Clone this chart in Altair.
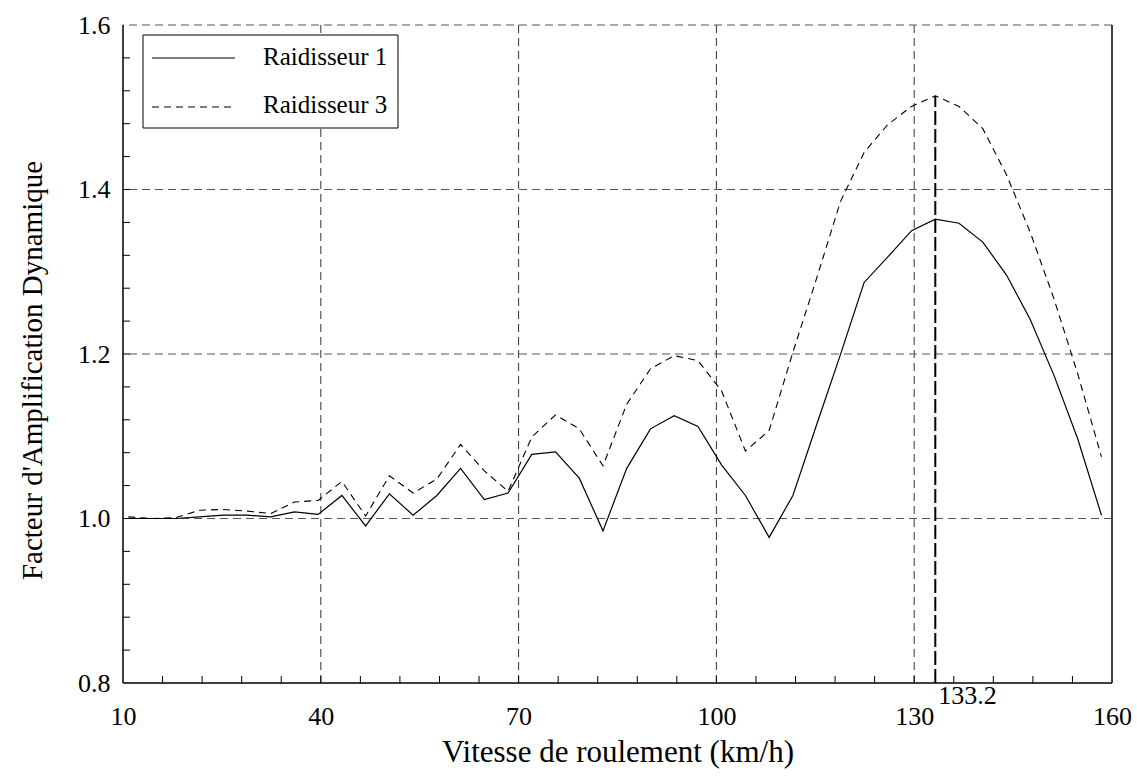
import altair as alt
import pandas as pd

# ---- data ----
speed_kmh = [10.8, 14.4, 18.0, 21.6, 25.2, 28.8, 32.4, 36.0, 39.6, 43.2,
             46.8, 50.4, 54.0, 57.6, 61.2, 64.8, 68.4, 72.0, 75.6, 79.2,
             82.8, 86.4, 90.0, 93.6, 97.2, 100.8, 104.4, 108.0, 111.6, 115.2,
             118.8, 122.4, 126.0, 129.6, 133.2, 136.8, 140.4, 144.0, 147.6, 151.2,
             154.8, 158.4]
raid1 = [1.000, 1.000, 1.000, 1.002, 1.004, 1.004, 1.002, 1.008, 1.005, 1.028,
         0.991, 1.030, 1.004, 1.028, 1.061, 1.023, 1.031, 1.078, 1.081, 1.049,
         0.985, 1.061, 1.109, 1.125, 1.112, 1.065, 1.028, 0.977, 1.028, 1.114,
         1.199, 1.287, 1.318, 1.350, 1.364, 1.359, 1.336, 1.296, 1.242, 1.174,
         1.097, 1.004]
raid3 = [1.002, 1.000, 1.001, 1.010, 1.011, 1.009, 1.006, 1.020, 1.022, 1.045,
         1.003, 1.052, 1.031, 1.048, 1.090, 1.058, 1.033, 1.099, 1.126, 1.109,
         1.064, 1.139, 1.182, 1.198, 1.192, 1.155, 1.082, 1.107, 1.202, 1.292,
         1.385, 1.445, 1.479, 1.501, 1.514, 1.501, 1.474, 1.418, 1.348, 1.267,
         1.176, 1.075]
series_names = ["Raidisseur 1", "Raidisseur 3"]

x_labels = [10, 40, 70, 100, 130, 160]
y_labels = [0.8, 1.0, 1.2, 1.4, 1.6]
grid_x = [40, 70, 100, 130]
grid_y = [1.0, 1.2, 1.4, 1.6]
minor_x = [16, 22, 28, 34, 40, 46, 52, 58, 64, 70, 76, 82, 88, 94, 100,
           106, 112, 118, 124, 130, 136, 142, 148, 154]
minor_y = [0.84, 0.88, 0.92, 0.96, 1.0, 1.04, 1.08, 1.12, 1.16, 1.2, 1.24,
           1.28, 1.32, 1.36, 1.4, 1.44, 1.48, 1.52, 1.56]
peak_speed = [133.2]
peak_value = [1.514]
peak_label = ["133.2"]

FONT = "Times New Roman, Liberation Serif, serif"
W, H = 989, 658

xs = alt.Scale(domain=[10, 160], nice=False, zero=False)
ys = alt.Scale(domain=[0.8, 1.6], nice=False, zero=False)

df1 = pd.DataFrame({"v": speed_kmh, "f": raid1})
df3 = pd.DataFrame({"v": speed_kmh, "f": raid3})

# axes (labels + titles only)
base_axes = alt.Chart(pd.DataFrame({"v": [10, 160], "f": [0.8, 1.6]})).mark_point(opacity=0).encode(
    x=alt.X("v:Q", scale=xs, axis=alt.Axis(
        values=x_labels, title="Vitesse de roulement (km/h)", grid=False, ticks=False,
        domain=False, tickSize=0, labelPadding=20, labelFont=FONT, labelFontSize=26,
        labelColor="black", titleFont=FONT, titleFontSize=31, titleFontWeight="normal",
        titleColor="black", titlePadding=8, labelFlush=False)),
    y=alt.Y("f:Q", scale=ys, axis=alt.Axis(
        values=y_labels, format=".1f", title="Facteur d'Amplification Dynamique",
        grid=False, ticks=False, domain=False, tickSize=0, labelPadding=13,
        labelFont=FONT, labelFontSize=26, labelColor="black", titleFont=FONT,
        titleFontSize=29, titleFontWeight="normal", titleColor="black",
        titlePadding=30, titleY=345, labelFlush=False)),
)

gx = alt.Chart(pd.DataFrame({"g": grid_x})).mark_rule(
    color="#333333", strokeWidth=1, strokeDash=[8, 5]).encode(x=alt.X("g:Q", scale=xs))
gy = alt.Chart(pd.DataFrame({"g": grid_y})).mark_rule(
    color="#555555", strokeWidth=1, strokeDash=[8, 5]).encode(y=alt.Y("g:Q", scale=ys))

tx = alt.Chart(pd.DataFrame({"t": minor_x})).mark_rule(
    color="black", strokeWidth=1, y2Offset=-7).encode(
    x=alt.X("t:Q", scale=xs), y=alt.datum(0.8, scale=ys), y2=alt.datum(0.8))
ty = alt.Chart(pd.DataFrame({"t": minor_y})).mark_rule(
    color="black", strokeWidth=1, x2Offset=7).encode(
    y=alt.Y("t:Q", scale=ys), x=alt.datum(10, scale=xs), x2=alt.datum(10))

frame_b = alt.Chart(pd.DataFrame({"a": [10], "b": [160], "y": [0.8]})).mark_rule(
    color="black", strokeWidth=1.5).encode(
    x=alt.X("a:Q", scale=xs), x2="b:Q", y=alt.Y("y:Q", scale=ys))
frame_lr = alt.Chart(pd.DataFrame({"x": [10, 160], "a": [0.8, 0.8], "b": [1.6, 1.6]})).mark_rule(
    color="black", strokeWidth=1.5).encode(
    x=alt.X("x:Q", scale=xs), y=alt.Y("a:Q", scale=ys), y2="b:Q")

peak_rule = alt.Chart(pd.DataFrame({"x": peak_speed, "a": [0.8], "b": peak_value})).mark_rule(
    color="black", strokeWidth=2, strokeDash=[14, 4]).encode(
    x=alt.X("x:Q", scale=xs), y=alt.Y("a:Q", scale=ys), y2="b:Q")
peak_txt = alt.Chart(pd.DataFrame({"x": peak_speed, "y": [0.8], "t": peak_label})).mark_text(
    font=FONT, fontSize=26, align="left", baseline="top", dx=3, dy=0, color="black").encode(
    x=alt.X("x:Q", scale=xs), y=alt.Y("y:Q", scale=ys), text="t:N")

line1 = alt.Chart(df1).mark_line(color="black", strokeWidth=1.2).encode(
    x=alt.X("v:Q", scale=xs), y=alt.Y("f:Q", scale=ys))
line3 = alt.Chart(df3).mark_line(color="black", strokeWidth=1.1, strokeDash=[7, 5]).encode(
    x=alt.X("v:Q", scale=xs), y=alt.Y("f:Q", scale=ys))

# legend drawn manually (pixel positions inside the plot area)
one = pd.DataFrame({"k": [0]})
leg_box = alt.Chart(one).mark_rect(fill="white", stroke="black", strokeWidth=1).encode(
    x=alt.value(20), x2=alt.value(275), y=alt.value(10), y2=alt.value(103))
leg_l1 = alt.Chart(one).mark_rule(color="black", strokeWidth=1.2).encode(
    x=alt.value(29), x2=alt.value(112), y=alt.value(33))
leg_l3 = alt.Chart(one).mark_rule(color="black", strokeWidth=1.1, strokeDash=[7, 5]).encode(
    x=alt.value(29), x2=alt.value(112), y=alt.value(82))
leg_t1 = alt.Chart(one).mark_text(font=FONT, fontSize=25, align="left", baseline="middle",
                                  color="black").encode(
    x=alt.value(140), y=alt.value(32), text=alt.value(series_names[0]))
leg_t3 = alt.Chart(one).mark_text(font=FONT, fontSize=25, align="left", baseline="middle",
                                  color="black").encode(
    x=alt.value(140), y=alt.value(80), text=alt.value(series_names[1]))

chart = alt.layer(
    base_axes, gx, gy, tx, ty, peak_rule, line3, line1, frame_b, frame_lr, peak_txt,
    leg_box, leg_l1, leg_l3, leg_t1, leg_t3
).properties(
    width=W, height=H,
    autosize=alt.AutoSizeParams(type="none"),
    padding={"left": 123, "top": 25, "right": 25, "bottom": 93},
    background="white",
).configure_view(stroke=None)

chart.save("out.html", embed_options={"renderer": "svg", "actions": False})
